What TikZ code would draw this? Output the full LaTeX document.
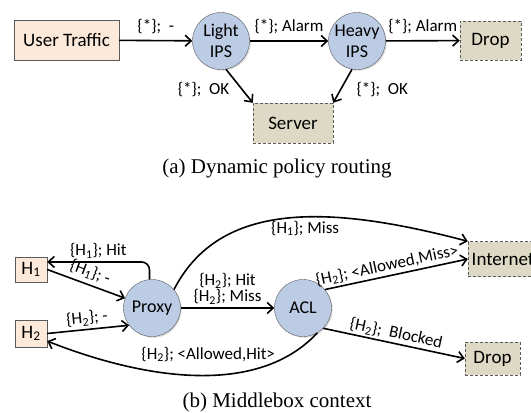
\documentclass[tikz,border=0pt]{standalone}
\usepackage{fontspec}
\setmainfont{Carlito}
\newfontfamily\capfont{Liberation Serif}
\usepackage{tikz}
\usetikzlibrary{positioning, arrows.meta, shadows}

\definecolor{peach}{RGB}{252,233,218}
\definecolor{ipsblue}{RGB}{188,204,228}
\definecolor{sinkfill}{RGB}{221,217,196}
\definecolor{rim}{RGB}{90,90,90}

\begin{document}
\begin{tikzpicture}[x=1pt, y=1pt,
    >={Straight Barb[length=6pt,width=11pt]},
    host/.style={draw=rim, fill=peach, inner sep=0pt,
        font=\fontsize{19}{21}\selectfont,
        drop shadow={shadow xshift=1.2pt, shadow yshift=-1.2pt, opacity=0.3}},
    mbox/.style={circle, draw=rim, fill=ipsblue, minimum size=57pt, inner sep=0pt,
        align=center, font=\fontsize{18}{21}\selectfont,
        drop shadow={shadow xshift=1.2pt, shadow yshift=-1.2pt, opacity=0.3}},
    sink/.style={draw=rim, densely dashed, fill=sinkfill, inner sep=0pt,
        font=\fontsize{19}{21}\selectfont},
    lbl/.style={font=\fontsize{17}{14}\selectfont, inner sep=2pt, align=center},
    flow/.style={->, line width=1.6pt}]
    \useasboundingbox (0,0) rectangle (531,-413);
        % (a) dynamic policy routing
        \node[host, minimum width=105pt, minimum height=40pt] (traffic) at (66.5,-40) {User Traffic};
        \node[mbox] (light) at (221,-41) {Light\\IPS};
        \node[mbox] (heavy) at (357,-41) {Heavy\\IPS};
        \node[sink, minimum width=61pt, minimum height=39pt] (drop1) at (490.5,-40.5) {Drop};
        \node[sink, minimum width=80pt, minimum height=40pt] (server) at (293,-123) {Server};
        \node[font=\capfont\fontsize{21}{24}\selectfont] (capa) at (277,-168) {(a) Dynamic policy routing};
        %---------------------------
        \path[flow]
        (traffic) edge node[lbl, above=4pt] {\{*\};\ \ -} (light)
        (light) edge node[lbl, above=4pt] {\{*\}; Alarm} (heavy)
        (heavy) edge node[lbl, above=4pt] {\{*\}; Alarm} (drop1)
        (light.-80) edge node[lbl, left=10pt, pos=0.6] {\{*\};\ \ OK} (server.north west)
        (heavy.-100) edge node[lbl, right=13pt, pos=0.6] {\{*\};\ \ OK} (server.north east);
        %---------------------------
        % (b) middlebox context
        \node[host, minimum width=32pt, minimum height=25pt] (h1) at (31,-269.5) {H\textsubscript{1}};
        \node[host, minimum width=32pt, minimum height=27pt] (h2) at (31,-333.5) {H\textsubscript{2}};
        \node[mbox] (proxy) at (152,-308) {Proxy};
        \node[mbox] (acl) at (303,-308) {ACL};
        \node[sink, minimum width=70pt, minimum height=35pt] (inet) at (503,-259) {Internet};
        \node[sink, minimum width=55pt, minimum height=33pt] (drop2) at (492.5,-358.5) {Drop};
        \node[font=\capfont\fontsize{21}{24}\selectfont] (capb) at (277,-402) {(b) Middlebox context};
        %---------------------------
        \path[flow]
        (h1.east) edge node[lbl, above=2pt, sloped] {\{H\textsubscript{1}\}; -} (proxy.160)
        (h2.east) edge node[lbl, above=1pt, sloped] {\{H\textsubscript{2}\}; -} (proxy.217)
        (proxy) edge node[lbl, above=1pt] {\{H\textsubscript{2}\}; Hit\\\{H\textsubscript{2}\}; Miss} (acl)
        (acl.40) edge node[lbl, above, sloped, pos=0.45] {\{H\textsubscript{2}\}; <Allowed,Miss>} (inet.west)
        (acl.-45) edge node[lbl, above, sloped] {\{H\textsubscript{2}\};\ \ Blocked} (drop2.west);
        \draw[flow, rounded corners=8pt] (proxy.95) |- (h1.25)
            node[lbl, pos=0.75, above=1pt] {\{H\textsubscript{1}\}; Hit};
        \draw[flow] (proxy.40) .. controls (220,-200) and (330,-205) .. (inet.north west)
            node[lbl, pos=0.56, below=1pt] {\{H\textsubscript{1}\}; Miss};
        \draw[flow] (acl.-60) .. controls (250,-405) and (120,-370) .. (h2.-25)
            node[lbl, pos=0.42, above=11pt] {\{H\textsubscript{2}\}; <Allowed,Hit>};
\end{tikzpicture}
\end{document}
